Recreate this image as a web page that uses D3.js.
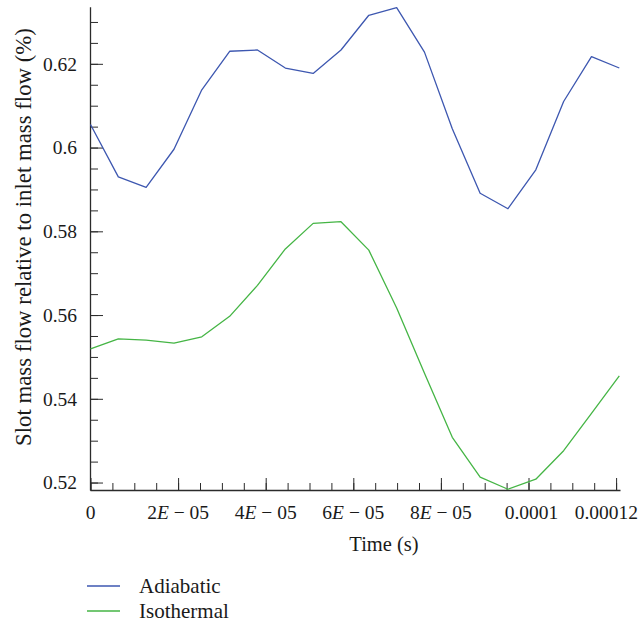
<!DOCTYPE html>
<html>
<head>
<meta charset="utf-8">
<script src="https://cdn.jsdelivr.net/npm/d3@7/dist/d3.min.js"></script>
<style>
  html, body { margin: 0; padding: 0; background: #fff; }
  svg { display: block; }
</style>
</head>
<body>
<svg id="chart" width="644" height="625" font-family="'Liberation Serif', 'DejaVu Serif', serif"></svg>
<script>
// ---- data ----
const times = [0, 6.35e-6, 1.27e-5, 1.906e-5, 2.541e-5, 3.177e-5, 3.812e-5, 4.448e-5,
  5.083e-5, 5.719e-5, 6.354e-5, 6.99e-5, 7.625e-5, 8.26e-5, 8.896e-5, 9.531e-5,
  1.0167e-4, 1.0802e-4, 1.1438e-4, 1.2073e-4];
const adiabatic = [0.6055, 0.5930, 0.5905, 0.5996, 0.6138, 0.6230, 0.6233, 0.6190,
  0.6177, 0.6233, 0.6316, 0.6334, 0.6228, 0.6045, 0.5891, 0.5854, 0.5947, 0.6110,
  0.6217, 0.6190];
const isothermal = [0.5519, 0.5543, 0.5540, 0.5533, 0.5548, 0.5597, 0.5671, 0.5758,
  0.5819, 0.5823, 0.5755, 0.5617, 0.5461, 0.5308, 0.5213, 0.5184, 0.5208, 0.5276,
  0.5365, 0.5455];
const seriesNames = ["Adiabatic", "Isothermal"];
const seriesColors = ["#3d57b0", "#45b545"];
const yTicks = [0.52, 0.54, 0.56, 0.58, 0.6, 0.62];
const yTickLabels = ["0.52", "0.54", "0.56", "0.58", "0.6", "0.62"];
const xTicks = [0, 2e-5, 4e-5, 6e-5, 8e-5, 1e-4, 1.2e-4];
const xTickLabels = ["0", "2E-05", "4E-05", "6E-05", "8E-05", "0.0001", "0.00012"];
const xTitle = "Time (s)";
const yTitle = "Slot mass flow relative to inlet mass flow (%)";

// ---- layout ----
const svg = d3.select("#chart");
const FONT = "'Liberation Serif', 'DejaVu Serif', serif";
const mLeft = 90.5, mRight = 619.3, mTop = 7.3, mBottom = 490.5;
const x = d3.scaleLinear().domain([0, d3.max(times)]).range([mLeft, mRight]);
const y = d3.scaleLinear().domain([0.5181, 0.6335]).range([mBottom, mTop]);
const axisColor = "#2b2b2b";
const textColor = "#1a1a1a";

// minor ticks
const xMinor = d3.range(0, 1.2e-4 + 1e-9, 5e-6);
const yMinor = d3.range(0.52, 0.6335, 0.005);

// x axis
const gx = svg.append("g").attr("transform", `translate(0,${mBottom})`);
gx.call(d3.axisBottom(x).tickValues(xMinor).tickSize(-7.5).tickFormat("").tickSizeOuter(0));
gx.append("g").call(d3.axisBottom(x).tickValues(xTicks).tickSize(-12.5).tickFormat("").tickSizeOuter(0));
gx.selectAll(".domain").remove();
gx.selectAll("line").attr("stroke", axisColor).attr("stroke-width", 1);
svg.append("line").attr("x1", mLeft).attr("x2", 620.5).attr("y1", mBottom).attr("y2", mBottom)
  .attr("stroke", axisColor).attr("stroke-width", 1.3);

// y axis
const gy = svg.append("g").attr("transform", `translate(${mLeft},0)`);
gy.call(d3.axisLeft(y).tickValues(yMinor).tickSize(-7.5).tickFormat("").tickSizeOuter(0));
gy.append("g").call(d3.axisLeft(y).tickValues(yTicks).tickSize(-12.5).tickFormat("").tickSizeOuter(0));
gy.selectAll(".domain").remove();
gy.selectAll("line").attr("stroke", axisColor).attr("stroke-width", 1);
svg.append("line").attr("x1", mLeft).attr("x2", mLeft).attr("y1", mTop).attr("y2", mBottom)
  .attr("stroke", axisColor).attr("stroke-width", 1.3);

// y tick labels
svg.append("g").selectAll("text").data(yTicks).join("text")
  .attr("x", 77).attr("y", d => y(d)).attr("dy", "0.35em")
  .attr("text-anchor", "end").attr("font-size", 19.5)
  .attr("font-family", FONT).attr("fill", textColor)
  .text((d, i) => yTickLabels[i]);

// x tick labels (E notation with italic E)
const xl = svg.append("g").selectAll("text").data(xTicks).join("text")
  .attr("x", (d, i) => i === xTicks.length - 1 ? 638 : x(d) + (i === 5 ? 3 : 0))
  .attr("y", 519)
  .attr("text-anchor", (d, i) => i === xTicks.length - 1 ? "end" : "middle")
  .attr("font-size", 19.5).attr("font-family", FONT).attr("fill", textColor);
xl.each(function(d, i) {
  const lab = xTickLabels[i];
  const t = d3.select(this);
  const m = lab.match(/^(\d)E-(\d+)$/);
  if (m) {
    t.append("tspan").text(m[1]);
    t.append("tspan").attr("font-style", "italic").text("E");
    t.append("tspan").text(" \u2212 " + m[2]);
  } else {
    t.text(lab);
  }
});

// axis titles
svg.append("text").attr("x", 384).attr("y", 551).attr("text-anchor", "middle")
  .attr("font-size", 20.5).attr("font-family", FONT).attr("fill", textColor).text(xTitle);
svg.append("text").attr("transform", `translate(31,${237}) rotate(-90)`)
  .attr("text-anchor", "middle").attr("font-size", 22.8)
  .attr("font-family", FONT).attr("fill", textColor).text(yTitle);

// lines
const line = d3.line().x((d, i) => x(times[i])).y(d => y(d));
[adiabatic, isothermal].forEach((s, k) => {
  svg.append("path").datum(s).attr("d", line)
    .attr("fill", "none").attr("stroke", seriesColors[k]).attr("stroke-width", 1.3)
    .attr("stroke-linejoin", "round");
});

// legend
const lg = svg.append("g");
seriesNames.forEach((n, k) => {
  const ly = 586 + k * 25;
  lg.append("line").attr("x1", 87).attr("x2", 120).attr("y1", ly).attr("y2", ly)
    .attr("stroke", seriesColors[k]).attr("stroke-width", 1.3);
  lg.append("text").attr("x", 139).attr("y", ly).attr("dy", "0.32em")
    .attr("font-size", 21).attr("font-family", FONT).attr("fill", textColor).text(n);
});
</script>
</body>
</html>
